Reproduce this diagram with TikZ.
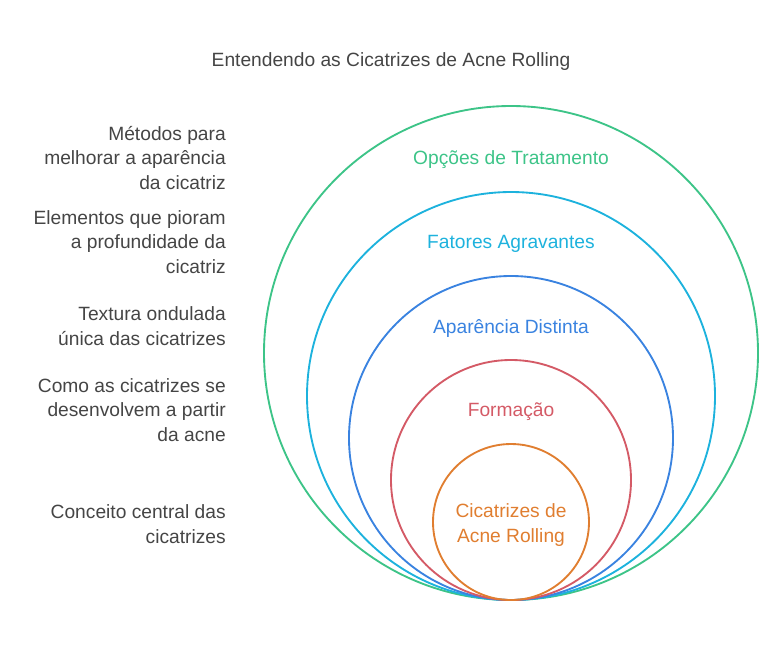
\documentclass[tikz,border=0pt]{standalone}
\usepackage{fontspec}
\setmainfont{Liberation Sans}
\usetikzlibrary{positioning}

\definecolor{ink}{HTML}{454545}
\definecolor{cgreen}{HTML}{3DC488}
\definecolor{ccyan}{HTML}{1DB2DD}
\definecolor{cblue}{HTML}{3A83E0}
\definecolor{cred}{HTML}{D45A66}
\definecolor{corange}{HTML}{E07E30}

\begin{document}
\begin{tikzpicture}[x=0.75pt, y=-0.75pt,
	every node/.style={font=\fontsize{14.4}{18.4}\selectfont},
	ring/.style={draw, circle, line width=1.4pt, inner sep=0pt},
	lbl/.style={align=right, anchor=east, text=ink, inner sep=0pt},
	inlbl/.style={align=center}]
	\useasboundingbox (0,0) rectangle (782,651);
	\node[text=ink] (title) at (391,62) {Entendendo as Cicatrizes de Acne Rolling};
	% rings, all touching at the bottom
	\node[ring, cgreen, minimum size=370.5pt] (opcoes) at (511,353) {};
	\node[ring, ccyan, minimum size=306pt] (fatores) at (511,396) {};
	\node[ring, cblue, minimum size=243pt] (aparencia) at (511,438) {};
	\node[ring, cred, minimum size=180pt] (formacao) at (511,480) {};
	\node[ring, corange, minimum size=117pt] (cicatrizes) at (511,522) {};
	\node[inlbl, text=cgreen] (topcao) at (511,160) {Opções de Tratamento};
	\node[inlbl, text=ccyan] (tfator) at (511,244) {Fatores Agravantes};
	\node[inlbl, text=cblue] (tapar) at (511,328) {Aparência Distinta};
	\node[inlbl, text=cred] (tform) at (511,412) {Formação};
	\node[inlbl, text=corange] (tcica) at (511,525) {Cicatrizes de\\Acne Rolling};
	% descriptions on the left
	\node[lbl] (dopcao) at (226,158) {Métodos para\\melhorar a aparência\\da cicatriz};
	\node[lbl] (dfator) at (226,242) {Elementos que pioram\\a profundidade da\\cicatriz};
	\node[lbl] (dapar) at (226,326) {Textura ondulada\\única das cicatrizes};
	\node[lbl] (dform) at (226,410) {Como as cicatrizes se\\desenvolvem a partir\\da acne};
	\node[lbl] (dcica) at (226,524) {Conceito central das\\cicatrizes};
\end{tikzpicture}
\end{document}
